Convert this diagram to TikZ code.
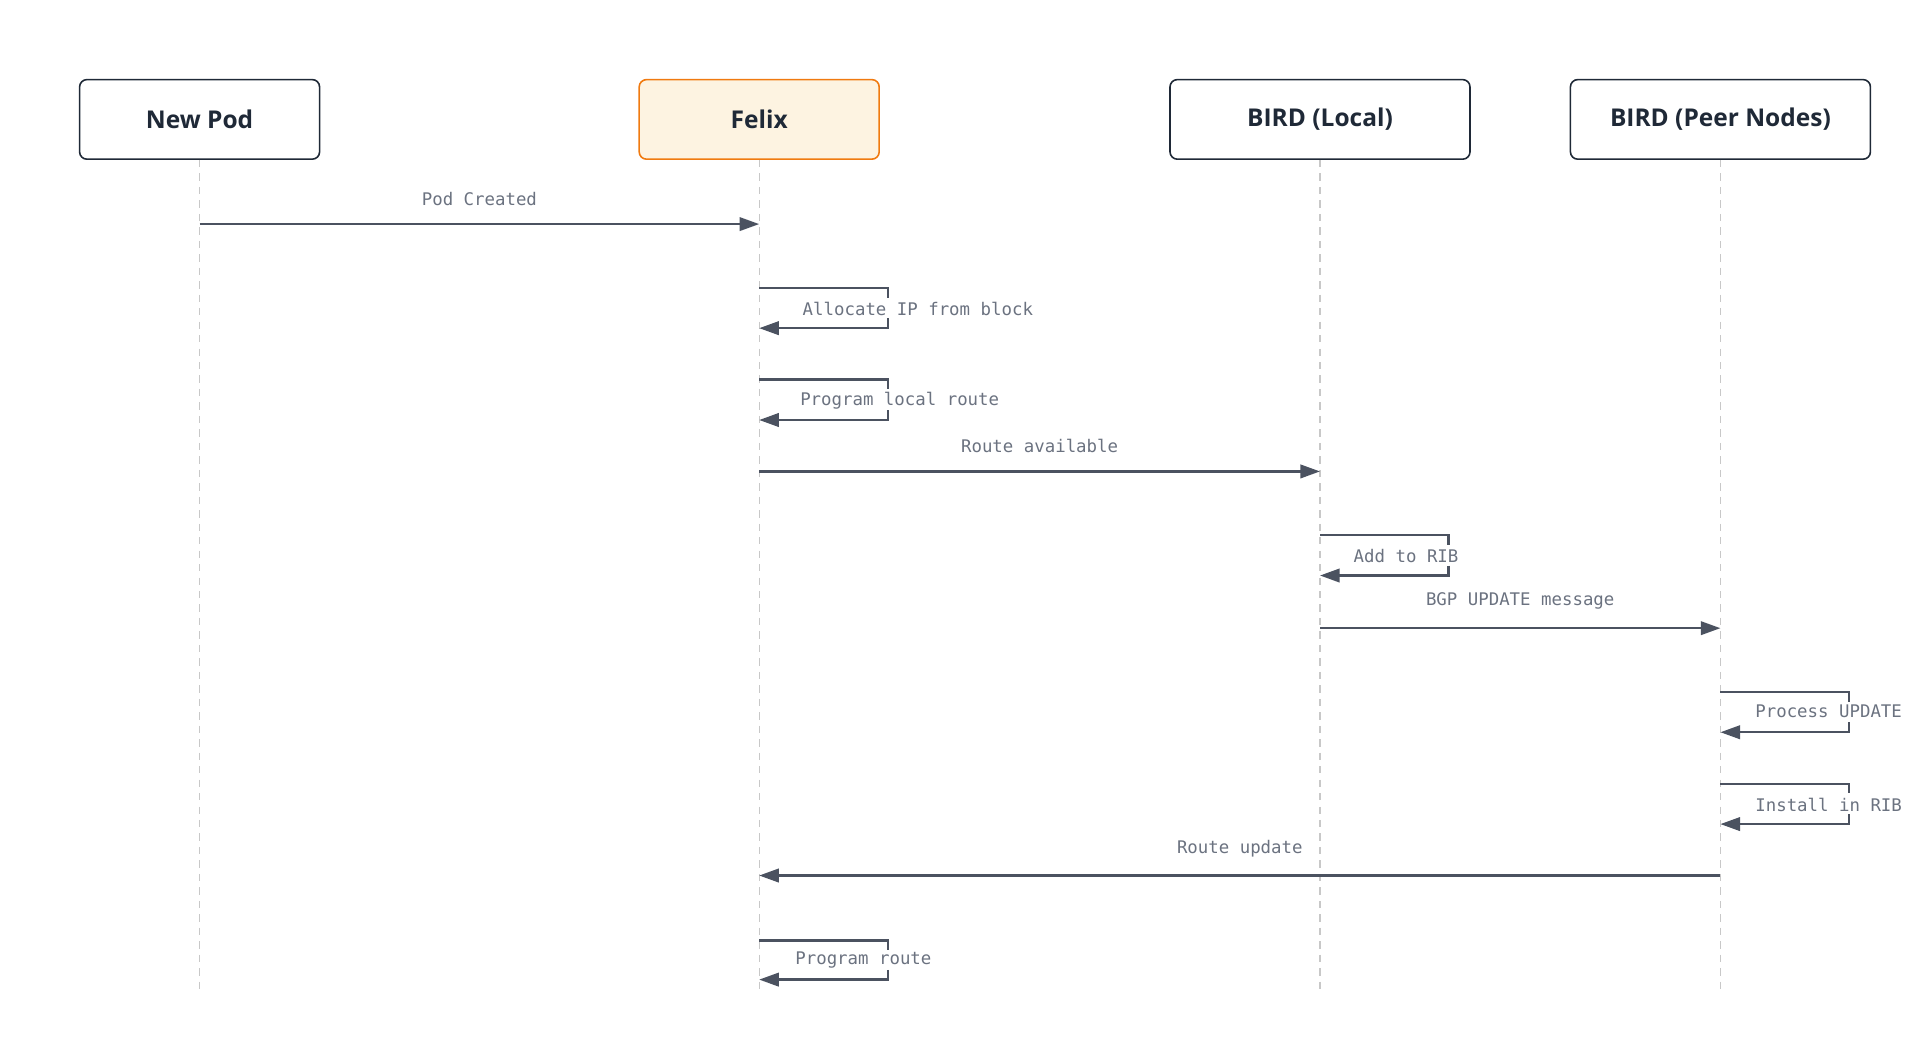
\documentclass[tikz,border=0pt]{standalone}
\usepackage{fontspec}
\setmainfont{Open Sans}
\newfontfamily\monofont{DejaVu Sans Mono}
\usetikzlibrary{arrows.meta}
\definecolor{ink}{HTML}{1F2937}
\definecolor{wire}{HTML}{4B5260}
\definecolor{msg}{HTML}{6B7280}
\definecolor{life}{HTML}{C8C8C8}
\definecolor{felixfill}{HTML}{FDF3E1}
\definecolor{felixline}{HTML}{F07A10}
\tikzstyle{actor}=[draw=ink,line width=1.3pt,rounded corners=6pt,minimum height=65pt,fill=white,font=\fontsize{20}{24}\selectfont\bfseries,text=ink]
\tikzstyle{msg} = [draw=wire,line width=1.9pt,-{Triangle[length=16pt,width=11pt]}]
\tikzstyle{tick} = [draw=wire,line width=1.9pt]
\tikzstyle{msgtext} = [font=\monofont\fontsize{14.2}{16}\selectfont,text=msg]

\begin{document}
\begin{tikzpicture}[x=1pt,y=-1pt]
  \useasboundingbox (0,0) rectangle (1568,849);
  \node[actor,minimum width=196pt] (pod) at (163,97.5) {New Pod};
  \node[actor,minimum width=196pt,fill=felixfill,draw=felixline] (felix) at (620,97.5) {Felix};
  \node[actor,minimum width=245pt] (bird) at (1078,97.5) {BIRD (Local)};
  \node[actor,minimum width=245pt] (peer) at (1405,97.5) {BIRD (Peer Nodes)};
  % lifelines
  \foreach \a in {pod,felix,bird,peer} {
    \coordinate (\a end) at (\a.south |- 0,810);
    \draw[life,line width=1pt,dash pattern=on 6pt off 5pt] (\a.south) -- (\a end);
  }

  % messages
  \coordinate (m1a) at (pod.south |- 0,183);
  \coordinate (m1b) at (felix.south |- 0,183);
  \path[msg] (m1a) -- (m1b) node[msgtext,midway,above=11pt] {Pod Created};

  \coordinate (s1a) at (felix.south |- 0,235);
  \coordinate (s1b) at (felix.south |- 0,268);
  \path[tick] (s1a) -| ++(105,8);
  \path[msg] ([xshift=105pt,yshift=8pt]s1b) |- (s1b);
  \node[msgtext,anchor=west] (s1) at (652,252) {Allocate IP from block};

  \coordinate (s2a) at (felix.south |- 0,310);
  \coordinate (s2b) at (felix.south |- 0,343);
  \path[tick] (s2a) -| ++(105,8);
  \path[msg] ([xshift=105pt,yshift=8pt]s2b) |- (s2b);
  \node[msgtext,anchor=west] (s2) at (650,327) {Program local route};

  \coordinate (m2a) at (felix.south |- 0,385);
  \coordinate (m2b) at (bird.south |- 0,385);
  \path[msg] (m2a) -- (m2b) node[msgtext,midway,above=11pt] {Route available};

  \coordinate (s3a) at (bird.south |- 0,437);
  \coordinate (s3b) at (bird.south |- 0,470);
  \path[tick] (s3a) -| ++(105,8);
  \path[msg] ([xshift=105pt,yshift=8pt]s3b) |- (s3b);
  \node[msgtext,anchor=west] (s3) at (1102,454) {Add to RIB};

  \coordinate (m3a) at (bird.south |- 0,513);
  \coordinate (m3b) at (peer.south |- 0,513);
  \path[msg] (m3a) -- (m3b) node[msgtext,midway,above=11pt] {BGP UPDATE message};

  \coordinate (s4a) at (peer.south |- 0,565);
  \coordinate (s4b) at (peer.south |- 0,598);
  \path[tick] (s4a) -| ++(105,8);
  \path[msg] ([xshift=105pt,yshift=8pt]s4b) |- (s4b);
  \node[msgtext,anchor=west] (s4) at (1430,581) {Process UPDATE};

  \coordinate (s5a) at (peer.south |- 0,640);
  \coordinate (s5b) at (peer.south |- 0,673);
  \path[tick] (s5a) -| ++(105,8);
  \path[msg] ([xshift=105pt,yshift=8pt]s5b) |- (s5b);
  \node[msgtext,anchor=west] (s5) at (1430,657) {Install in RIB};

  \coordinate (m4a) at (peer.south |- 0,715);
  \coordinate (m4b) at (felix.south |- 0,715);
  \path[msg] (m4a) -- (m4b) node[msgtext,midway,above=11pt] {Route update};

  \coordinate (s6a) at (felix.south |- 0,768);
  \coordinate (s6b) at (felix.south |- 0,800);
  \path[tick] (s6a) -| ++(105,8);
  \path[msg] ([xshift=105pt,yshift=8pt]s6b) |- (s6b);
  \node[msgtext,anchor=west] (s6) at (646,784) {Program route};
\end{tikzpicture}
\end{document}
